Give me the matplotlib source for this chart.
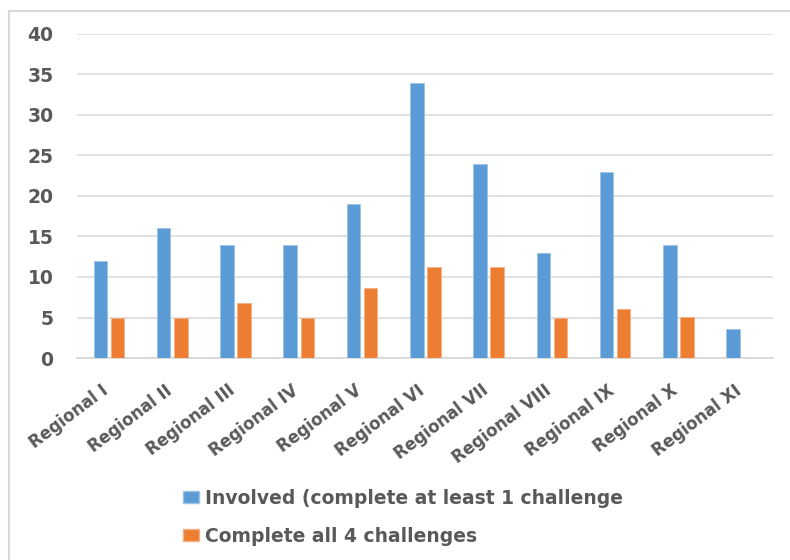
import matplotlib
matplotlib.use("Agg")
import matplotlib.pyplot as plt
from matplotlib.patches import Rectangle, Patch
from matplotlib.transforms import ScaledTranslation
import numpy as np

regions = ["Regional I", "Regional II", "Regional III", "Regional IV", "Regional V",
           "Regional VI", "Regional VII", "Regional VIII", "Regional IX", "Regional X",
           "Regional XI"]
involved = [12, 16, 14, 14, 19, 34, 24, 13, 23, 14, 3.6]
complete_all = [5, 5, 6.8, 4.9, 8.6, 11.2, 11.2, 4.9, 6.0, 5.1, 0]

BLUE = "#5B9BD5"
ORANGE = "#ED7D31"
GREY = "#595959"

plt.rcParams['font.family'] = ['DejaVu Sans']

fig = plt.figure(figsize=(7.9, 5.6), dpi=100)
ax = fig.add_axes([77 / 790, 1 - 358 / 560, (773 - 77) / 790, (358 - 34) / 560])

# chart area border
fig.patches.append(Rectangle((9 / 790, -0.1), 1.2, 1 - 11 / 560 + 0.1,
                             transform=fig.transFigure, fill=False,
                             edgecolor="#d9d9d9", linewidth=1.5))

x = np.arange(len(regions))
w = 0.215
ax.bar(x - 0.13, involved, w, color=BLUE, edgecolor="#9dc3e6", linewidth=0.6,
       label="Involved (complete at least 1 challenge", zorder=3)
ax.bar(x + 0.14, complete_all, w, color=ORANGE, edgecolor="#f4b183", linewidth=0.6,
       label="Complete all 4 challenges", zorder=3)

ax.set_xlim(-0.5, len(regions) - 0.5)
ax.set_ylim(0, 40)
ax.set_yticks(range(0, 41, 5))
ax.yaxis.grid(True, color="#dedede", linewidth=1.3, zorder=0)
for s in ["top", "right", "left"]:
    ax.spines[s].set_visible(False)
ax.spines["bottom"].set_color("#d9d9d9")
ax.spines["bottom"].set_linewidth(1.3)
ax.tick_params(axis="both", length=0, colors=GREY)
ax.tick_params(axis="y", pad=17)
for lbl in ax.get_yticklabels():
    lbl.set_fontsize(13.5)
    lbl.set_fontweight("bold")
ax.set_xticks(x)
ax.set_xticklabels(regions, rotation=37, ha="right", va="center",
                   rotation_mode="anchor",
                   fontsize=12, fontweight="bold", color=GREY)
ax.tick_params(axis="x", pad=22)
shift = ScaledTranslation(-2 / 100, 0, fig.dpi_scale_trans)
for lbl in ax.get_xticklabels():
    lbl.set_transform(lbl.get_transform() + shift)

handles = [Patch(facecolor=BLUE, edgecolor="#9dc3e6"),
           Patch(facecolor=ORANGE, edgecolor="#f4b183")]
labels = ["Involved (complete at least 1 challenge", "Complete all 4 challenges"]
leg = fig.legend(handles, labels, loc="upper left",
                 bbox_to_anchor=(183 / 790, 1 - 489 / 560), frameon=False,
                 borderpad=0, borderaxespad=0,
                 fontsize=13.5, handlelength=0.85, handleheight=0.6,
                 handletextpad=0.33, labelspacing=1.0)
for t in leg.get_texts():
    t.set_color(GREY)
    t.set_fontweight("bold")

fig.savefig("out.png", dpi=100)
